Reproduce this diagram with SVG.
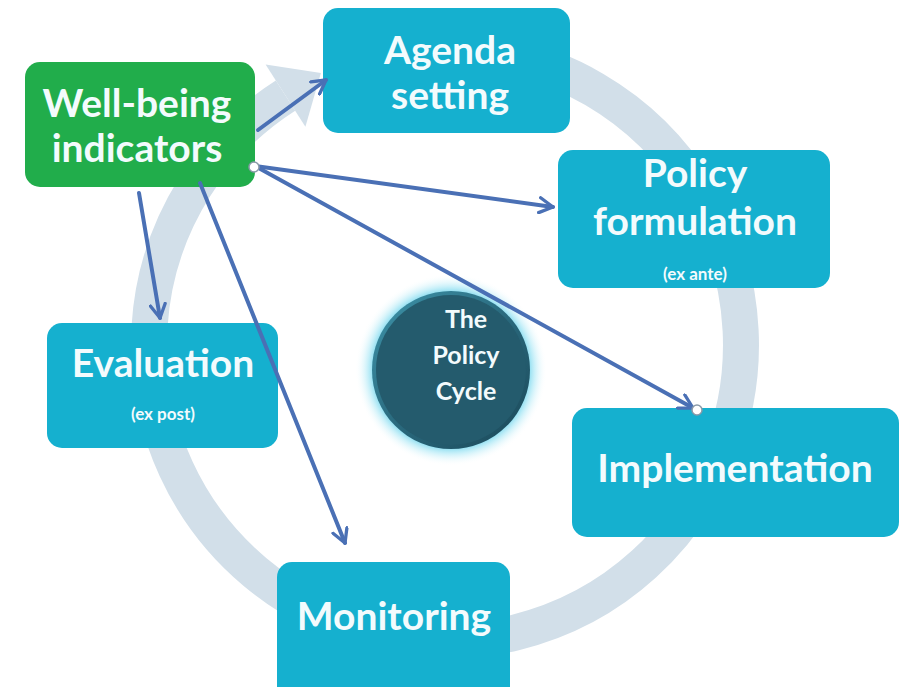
<svg xmlns="http://www.w3.org/2000/svg" width="899" height="687" viewBox="0 0 899 687">
  <defs>
    <style>
      .box { fill: #15b0cf; }
      .green { fill: #21ad4b; }
      .lbl { font-family: Lato, "Open Sans", "Liberation Sans", sans-serif; font-weight: bold; fill: #f3fbfd; text-anchor: middle; }
      .big { font-size: 39px; }
      .small { font-size: 17px; }
      .hub { font-size: 25px; }
      .conn { fill: none; stroke: #4a70b5; stroke-width: 4; stroke-linecap: round; }
      .handle { fill: #ffffff; stroke: #8a9aa8; stroke-width: 1.5; }
    </style>
    <marker id="arrow" viewBox="0 0 12 12" refX="10" refY="6" markerWidth="18" markerHeight="18" markerUnits="userSpaceOnUse" orient="auto">
      <path d="M1,1 L10,6 L1,11" fill="none" stroke="#4a70b5" stroke-width="2.2" stroke-linecap="round" stroke-linejoin="round"/>
    </marker>
    <radialGradient id="glow" cx="0.5" cy="0.5" r="0.5">
      <stop offset="0.8" stop-color="#7fd9ee" stop-opacity="1"/>
      <stop offset="0.87" stop-color="#b6ebf7" stop-opacity="0.75"/>
      <stop offset="1" stop-color="#ffffff" stop-opacity="0"/>
    </radialGradient>
    <linearGradient id="rim" x1="0" y1="0" x2="1" y2="1">
      <stop offset="0" stop-color="#3e95ab"/>
      <stop offset="0.5" stop-color="#2a6a7e"/>
      <stop offset="1" stop-color="#1a4656"/>
    </linearGradient>
  </defs>

  <rect width="899" height="687" fill="#ffffff"/>

  <!-- background cycle arrow -->
  <g id="cycle-ring">
    <path d="M470.8,50.1 A296,296 0 1 1 285.5,95.6" fill="none" stroke="#d2dfe9" stroke-width="36"/>
    <path d="M265.6,64.4 L320.9,73 L305.4,126.8 Z" fill="#d2dfe9"/>
  </g>

  <!-- hub -->
  <g id="policy-cycle">
    <circle cx="451" cy="370" r="96" fill="url(#glow)"/>
    <circle cx="451" cy="370" r="79" fill="url(#rim)"/>
    <circle cx="451" cy="370" r="75" fill="#245b6d"/>
    <text class="lbl hub" x="466" y="328">The</text>
    <text class="lbl hub" x="466" y="364">Policy</text>
    <text class="lbl hub" x="466" y="400">Cycle</text>
  </g>

  <g id="well-being">
    <rect class="green" x="25" y="62" width="230" height="125" rx="15"/>
    <text class="lbl big" x="137" y="117">Well-being</text>
    <text class="lbl big" x="137" y="162">indicators</text>
  </g>

  <g id="agenda">
    <rect class="box" x="323" y="8" width="247" height="125" rx="15"/>
    <text class="lbl big" x="450" y="64">Agenda</text>
    <text class="lbl big" x="450" y="109">setting</text>
  </g>

  <g id="formulation">
    <rect class="box" x="558" y="150" width="272" height="138" rx="15"/>
    <text class="lbl big" x="695" y="187">Policy</text>
    <text class="lbl big" x="695" y="235">formulation</text>
    <text class="lbl small" x="695" y="280">(ex ante)</text>
  </g>

  <g id="implementation">
    <rect class="box" x="572" y="408" width="327" height="129" rx="15"/>
    <text class="lbl big" x="735" y="482">Implementation</text>
  </g>

  <g id="monitoring">
    <rect class="box" x="277" y="562" width="233" height="140" rx="15"/>
    <text class="lbl big" x="394" y="630">Monitoring</text>
  </g>

  <g id="evaluation">
    <rect class="box" x="47" y="323" width="231" height="125" rx="15"/>
    <text class="lbl big" x="163" y="377">Evaluation</text>
    <text class="lbl small" x="163" y="420">(ex post)</text>
  </g>

  <!-- connectors from the indicators box -->
  <g id="connectors">
    <line class="conn" x1="258" y1="130" x2="326" y2="80" marker-end="url(#arrow)"/>
    <line class="conn" x1="255" y1="166" x2="553" y2="207" marker-end="url(#arrow)"/>
    <line class="conn" x1="255" y1="166" x2="693" y2="408" marker-end="url(#arrow)"/>
    <line class="conn" x1="139" y1="193" x2="160" y2="318" marker-end="url(#arrow)"/>
    <line class="conn" x1="200" y1="183" x2="345" y2="543" marker-end="url(#arrow)"/>
    <circle class="handle" cx="254" cy="167" r="5"/>
    <circle class="handle" cx="697" cy="410" r="5"/>
  </g>
</svg>
